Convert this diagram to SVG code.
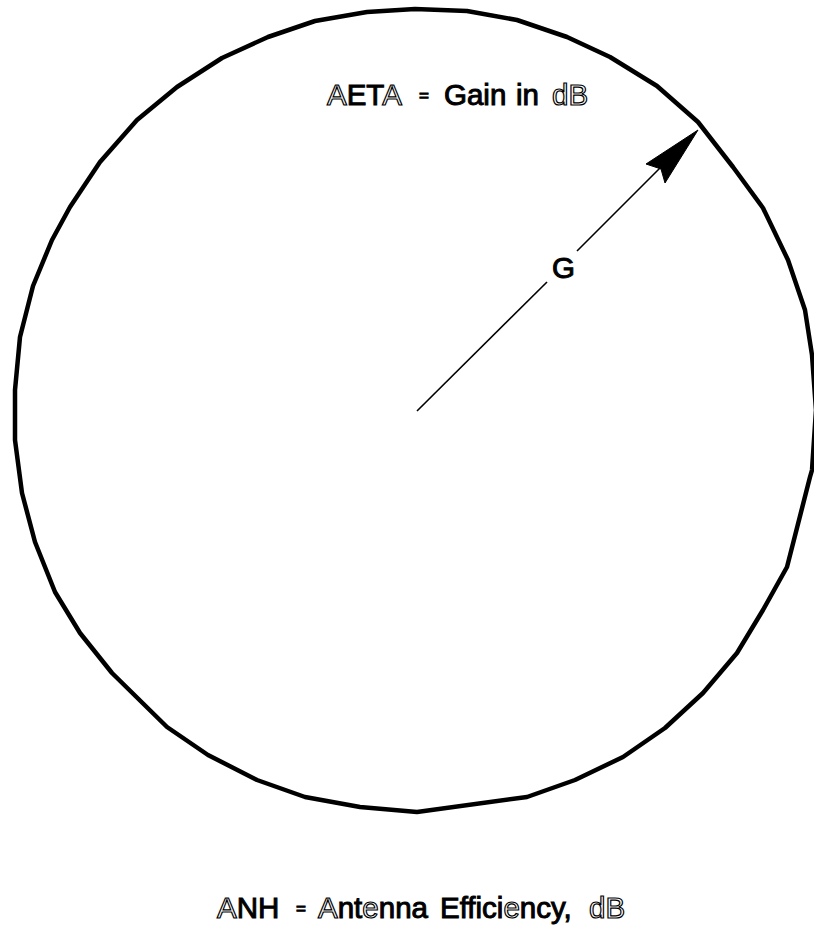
<svg xmlns="http://www.w3.org/2000/svg" width="814" height="937" viewBox="0 0 814 937">
<style>
.t{font-family:"Liberation Sans",Arial,sans-serif;font-size:29.5px;fill:#000;stroke:#000;stroke-width:1}
.o{fill:#fff;stroke:#000;stroke-width:1.2}
.eq{font-size:17px}
.ring{fill:none;stroke:#000;stroke-width:4.5;stroke-linejoin:round}
</style>
<rect width="814" height="937" fill="#fff"/>
<g id="circle">
<polygon class="ring" points="415,9 467,11 517,20 567,37 610,57 657,86 698,122 733,167 763,208 788,260 805,310 812,355 816,410 812,470 810,477 787,567 763,610 737,653 703,693 665,728 623,757 575,780 527,797 417,812 360,807 305,797 257,780 208,755 167,727 112,673 80,633 55,592 35,542 22,493 15,440 15,390 20,337 33,286 52,240 70,207 100,162 137,120 177,87 222,58 268,37 315,21 367,12"/>
</g>
<g id="connectors">
<line x1="417" y1="411" x2="547" y2="282" stroke="#000" stroke-width="1.6"/>
<line x1="577" y1="251" x2="668" y2="160" stroke="#000" stroke-width="1.6"/>
<polygon points="698,130 646,164 661,169 665,183" fill="#000" stroke="#000" stroke-width="1"/>
</g>
<g id="label-g"><text class="t" x="552" y="278">G</text></g>
<g id="label-top">
<text class="t" x="327" y="105"><tspan class="o">A</tspan>ET<tspan class="o">A</tspan></text>
<text class="t eq" x="419" y="101">=</text>
<text class="t" x="444" y="105">Gain</text>
<text class="t" x="516" y="105">in</text>
<text class="t o" x="552" y="105">dB</text>
</g>
<g id="label-bottom">
<text class="t" x="217" y="918"><tspan class="o">A</tspan>NH</text>
<text class="t eq" x="296" y="914">=</text>
<text class="t" x="318" y="918"><tspan class="o">A</tspan>nt<tspan class="o">e</tspan>nna</text>
<text class="t" x="440" y="918">Effici<tspan class="o">e</tspan>ncy,</text>
<text class="t o" x="589" y="918">dB</text>
</g>
</svg>
